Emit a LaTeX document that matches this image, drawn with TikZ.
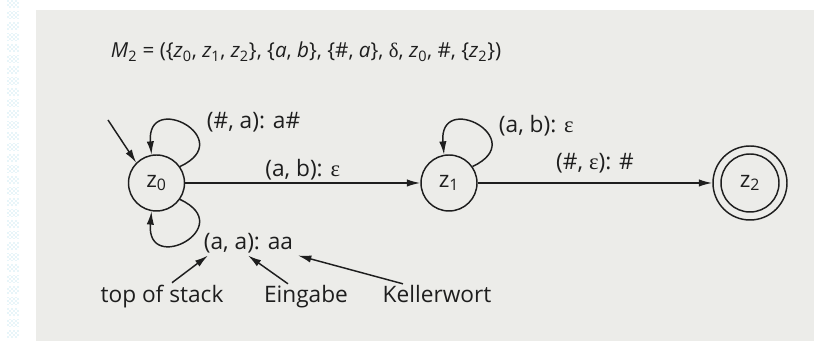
\documentclass[tikz,border=0pt]{standalone}
\usepackage{fontspec}
\setmainfont{Open Sans}
\newfontfamily\griech{Liberation Serif}
\usetikzlibrary{arrows.meta,calc,positioning,patterns}
\definecolor{hgGrau}{HTML}{ECECE9}
\definecolor{randBlau}{HTML}{9ED6E6}
\definecolor{tinte}{HTML}{1E1E1E}
\newcommand{\eps}{{\griech ε}}
\newcommand{\zz}[1]{z\textsubscript{#1}}
\newcommand{\izz}[1]{\textit{z}\textsubscript{#1}}

\begin{document}
\begin{tikzpicture}[x=0.75pt, y=0.75pt,
  every node/.style={font=\fontsize{17}{20}\selectfont, text=tinte, inner sep=2pt},
  zustand/.style={draw=tinte, circle, line width=1.1pt, minimum size=42pt, inner sep=0pt},
  pfeil/.style={-{Latex[length=10pt,width=5.5pt]}, line width=1.1pt, draw=tinte}]
\useasboundingbox (0,0) rectangle (814,341);
% Seite und Scan-Rand
\fill[white] (0,0) rectangle (814,341);
\fill[hgGrau] (36,0) rectangle (814,331);
\foreach \k in {0,...,30}
  \fill[pattern=crosshatch dots, pattern color=randBlau] (7,{3+11*\k}) rectangle (19,{10+11*\k});

\node[anchor=base west, font=\fontsize{15.5}{18}\selectfont] (titel) at (108,283)
  {\textit{M}\textsubscript{2} = (\{\izz{0}, \izz{1}, \izz{2}\}, \{\textit{a}, \textit{b}\}, \{\#, \textit{a}\}, {\griech δ}, \izz{0}, \#, \{\izz{2}\})};

% Zustaende
\node[zustand] (z0) at (156.5,158) {\zz{0}};
\node[zustand] (z1) at (449,158) {\zz{1}};
\node[zustand, minimum size=55.5pt] (z2) at (750,158) {\zz{2}};
\draw[line width=1.1pt, tinte] (z2.center) circle[radius=29];

% Uebergaenge
\coordinate (start) at (108,221);
\draw[pfeil] (start) -- (z0.135);
\draw[pfeil] (z0) -- node[above] {(a, b): \eps} (z1);
\draw[pfeil] (z1) -- node[above=5pt] {(\#, \eps): \#} (z2);
\draw[pfeil] (z0.35) .. controls +(25:65) and +(95:65) .. (z0.100);
\draw[pfeil] (z0.-35) .. controls +(-25:65) and +(-95:65) .. (z0.-100);
\draw[pfeil] (z1.35) .. controls +(25:65) and +(95:65) .. (z1.100);
\node[anchor=base west] (l0o) at (204,212) {(\#, a): a\#};
\node[anchor=base west] (l1) at (496,208) {(a, b): \eps};
\node[anchor=base west] (aa) at (201,91) {(a, a): aa};

% Erklaerung
\node[anchor=base] (tos) at (162,38) {top of stack};
\node[anchor=base] (ein) at (306,38) {Eingabe};
\node[anchor=base] (kel) at (437,38) {Kellerwort};
\draw[pfeil] ($(tos.north)+(10,0)$) -- ($(aa.south west)+(7,1)$);
\draw[pfeil] ($(ein.north)+(-18,-1)$) -- ($(aa.south west)+(47,1)$);
\draw[pfeil] ($(kel.north)+(-34,-1)$) -- ($(aa.south west)+(97,1)$);
\end{tikzpicture}
\end{document}
